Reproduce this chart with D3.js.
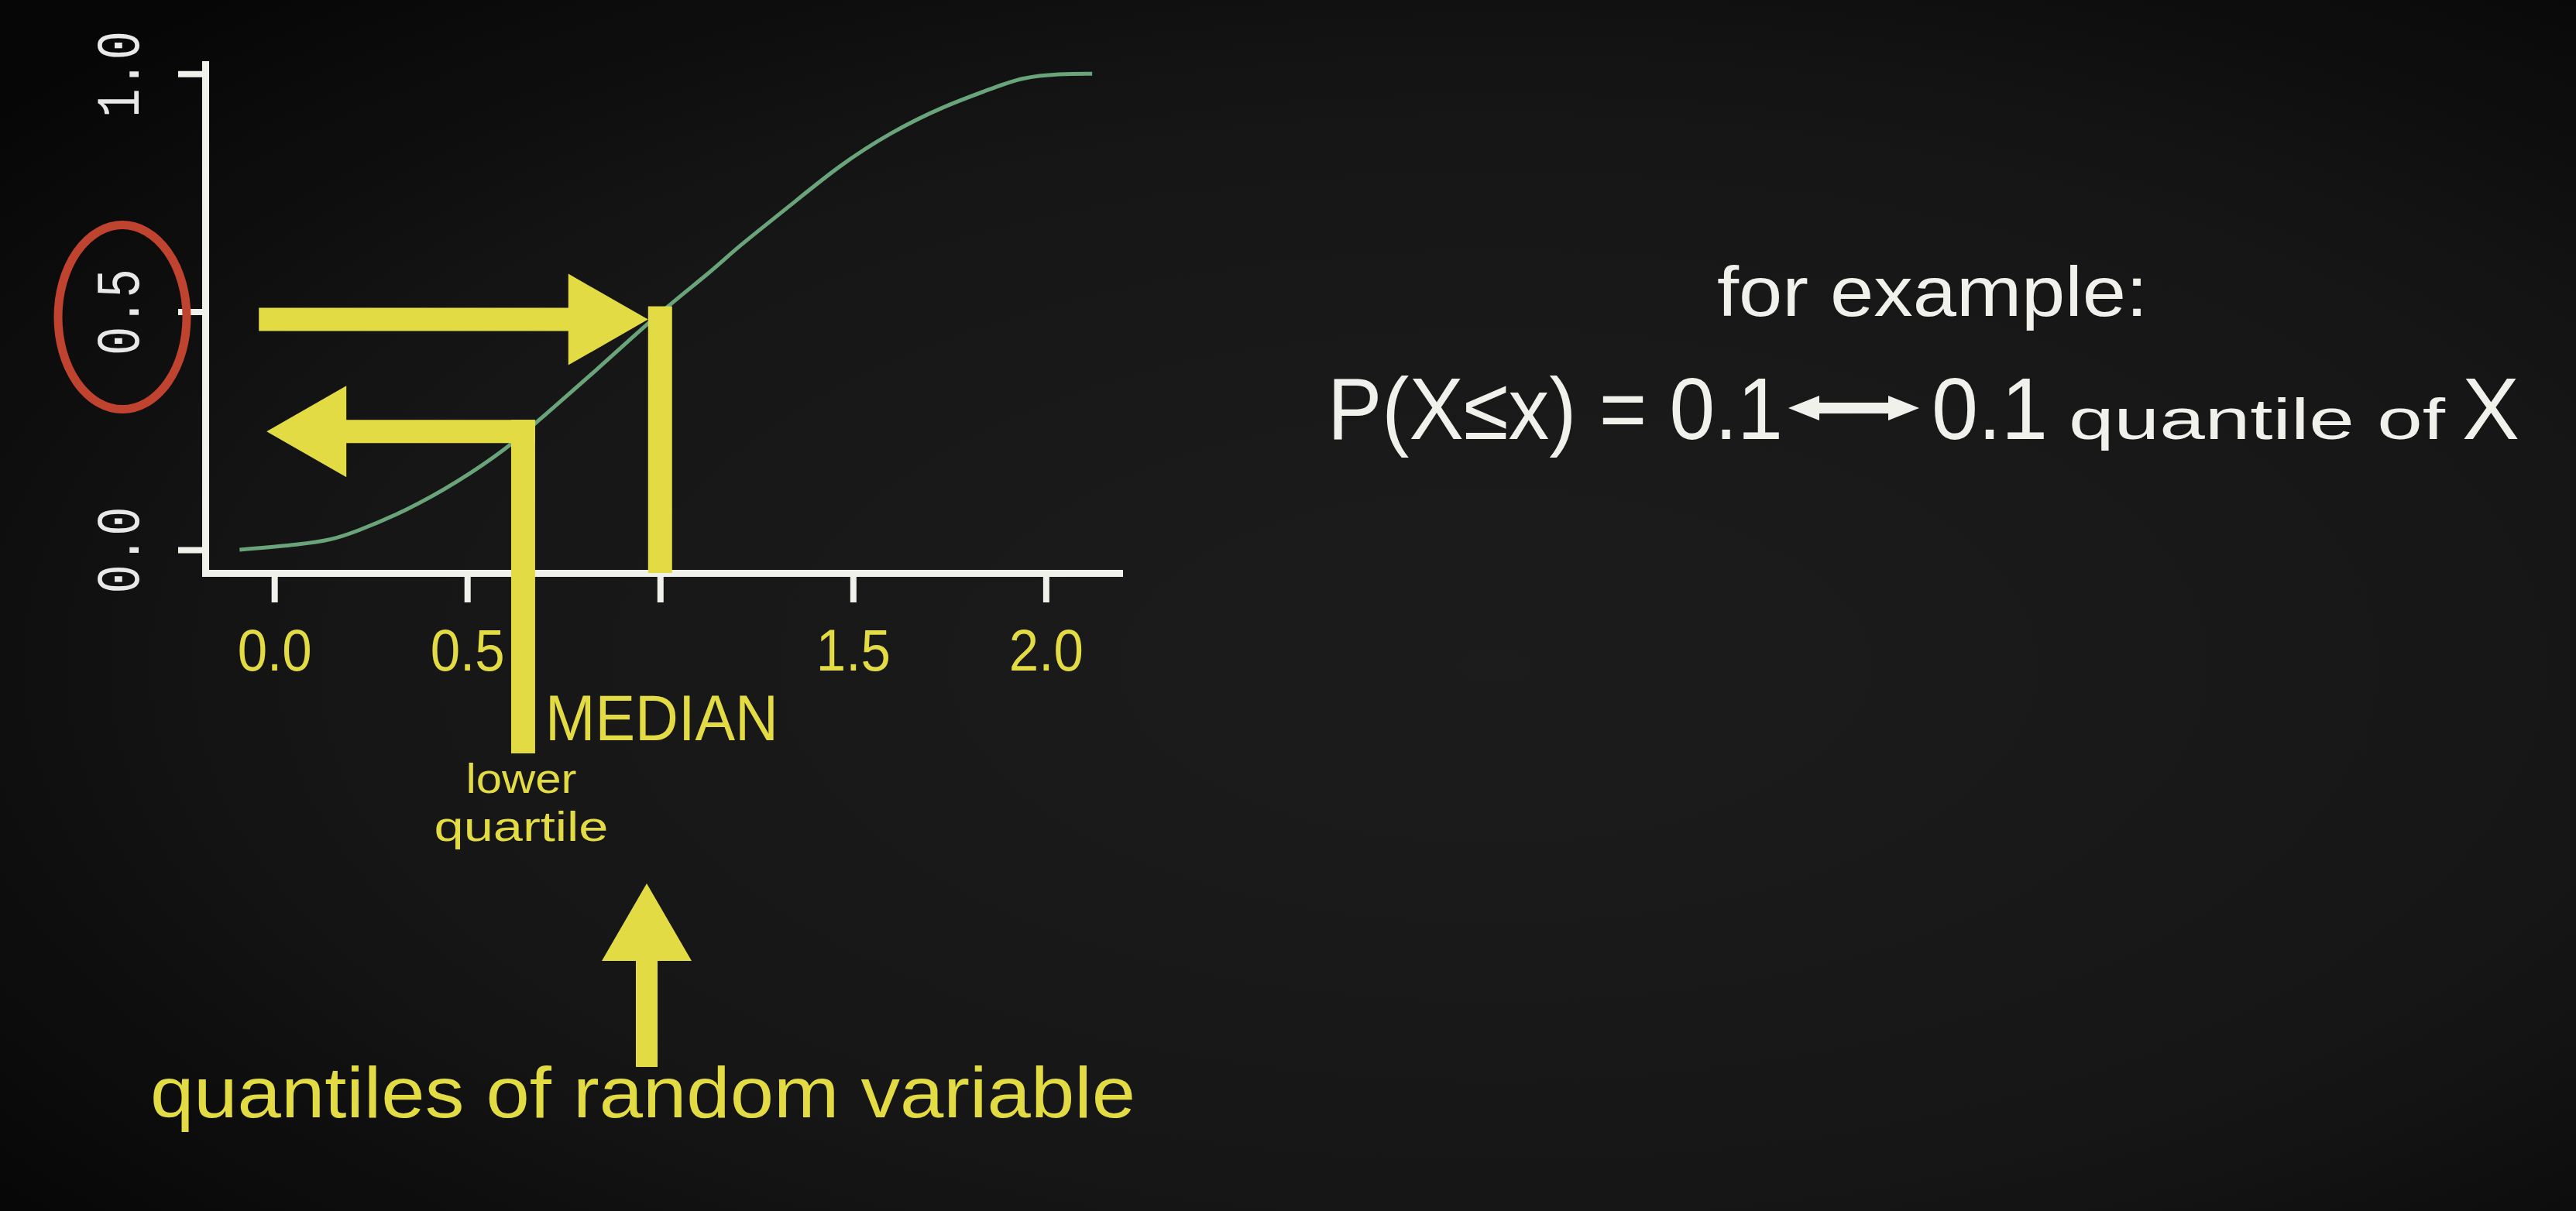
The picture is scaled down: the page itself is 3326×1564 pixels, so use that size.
<!DOCTYPE html>
<html>
<head>
<meta charset="utf-8">
<script src="https://cdn.jsdelivr.net/npm/d3@7"></script>
<style>
  html, body { margin: 0; padding: 0; background: #111; overflow: hidden; }
  svg { display: block; }
</style>
</head>
<body>
<div id="chart"></div>
<script>
// cdf
const cdfX = [-0.09, 0.07, 0.15, 0.21, 0.34, 0.474, 0.609, 0.675, 0.827, 1.0, 1.134, 1.198, 1.333, 1.465, 1.6, 1.735, 1.867, 1.936, 2.036, 2.12];
const cdfY = [0.0, 0.011, 0.021, 0.037, 0.081, 0.141, 0.216, 0.265, 0.371, 0.5, 0.585, 0.634, 0.72, 0.808, 0.878, 0.932, 0.971, 0.992, 1.0, 1.0];

const xTicks = [0, 0.5, 1, 1.5, 2];
const xTickLabels = ["0.0", "0.5", "", "1.5", "2.0"];
const yTicks = [0, 0.5, 1];
const yTickLabels = ["0.0", "0.5", "1.0"];

const quantileNames = ["median", "lower quartile"];
const quantileP = [0.5, 0.25];
const quantileQ = [1.0, 0.645];

const W = 3326, H = 1564;
const yellow = "#e2db44";
const white = "#f1f1ec";

const svg = d3.select("#chart")
  .append("svg")
  .attr("width", W)
  .attr("height", H);

// background, dark with a soft vignette

const defs = svg.append("defs");
const bg = defs.append("radialGradient")
  .attr("id", "bg")
  .attr("cx", "0.58").attr("cy", "0.55").attr("r", "0.75");
bg.append("stop").attr("offset", "0").attr("stop-color", "#1c1c1c");
bg.append("stop").attr("offset", "0.6").attr("stop-color", "#161616");
bg.append("stop").attr("offset", "1").attr("stop-color", "#060606");

svg.append("rect").attr("width", W).attr("height", H).attr("fill", "url(#bg)");

// scales

const x = d3.scaleLinear().domain([-0.179, 2.19]).range([265, 1445]);
const y = d3.scaleLinear().domain([-0.049, 1.02]).range([740, 83]);

// axes

const yAxis = svg.append("g")
  .attr("transform", "translate(265,0)")
  .call(d3.axisLeft(y).tickValues(yTicks).tickSize(35).tickSizeOuter(0)
    .tickFormat((d, i) => yTickLabels[i]));

yAxis.selectAll("text")
  .attr("x", null)
  .attr("dy", null)
  .attr("text-anchor", "middle")
  .attr("dominant-baseline", "central")
  .attr("transform", "translate(-108,0) rotate(-90)")
  .attr("fill", "#e8e8e8")
  .style("font-family", "'Liberation Mono', 'DejaVu Sans Mono', monospace")
  .style("font-size", "80px")
  .attr("textLength", 112)
  .attr("lengthAdjust", "spacingAndGlyphs");

const xAxis = svg.append("g")
  .attr("transform", "translate(0,740)")
  .call(d3.axisBottom(x).tickValues(xTicks).tickSize(38).tickSizeOuter(0)
    .tickPadding(34)
    .tickFormat((d, i) => xTickLabels[i]));

xAxis.selectAll("text")
  .attr("dy", "0.71em")
  .attr("fill", yellow)
  .style("font-family", "'Liberation Sans Narrow', 'Liberation Sans', sans-serif")
  .style("font-size", "76px")
  .attr("textLength", (d, i) => (xTickLabels[i] ? 96 : null))
  .attr("lengthAdjust", "spacingAndGlyphs");

svg.selectAll(".domain")
  .attr("stroke", white)
  .attr("stroke-width", 9)
  .attr("stroke-linecap", "square");
svg.selectAll(".tick line")
  .attr("stroke", white)
  .attr("stroke-width", 8);

// cdf curve

const cdf = cdfX.map((d, i) => [d, cdfY[i]]);

svg.append("path")
  .datum(cdf)
  .attr("fill", "none")
  .attr("stroke", "#6aa47a")
  .attr("stroke-width", 5)
  .attr("d", d3.line()
    .x(d => x(d[0]))
    .y(d => y(d[1]))
    .curve(d3.curveBasis));

// quantile arrows

const arrows = svg.append("g").attr("fill", yellow);
const barW = 31, shaft = 15, headL = 103, headH = 59;

// median: arrow from the axis to the curve, then bar down to the x axis
{
  const qx = x(quantileQ[0]), py = y(quantileP[0]) + 10;
  const x0 = x(-0.04), tip = qx - barW / 2;
  arrows.append("path").attr("d",
    `M${x0},${py - shaft} H${tip - headL} V${py - headH} L${tip},${py}` +
    ` L${tip - headL},${py + headH} V${py + shaft} H${x0} Z`);
  arrows.append("rect")
    .attr("x", qx - barW / 2).attr("y", py - 17)
    .attr("width", barW).attr("height", y(-0.049) - (py - 17));
}

// lower quartile: bar up from below the axis, then arrow back to the y axis
{
  const qx = x(quantileQ[1]), py = y(quantileP[1]) + 1;
  const tip = x(-0.02), right = qx + barW / 2;
  arrows.append("path").attr("d",
    `M${right},${py - shaft} V${py + shaft} H${tip + headL} V${py + headH}` +
    ` L${tip},${py} L${tip + headL},${py - headH} V${py - shaft} Z`);
  arrows.append("rect")
    .attr("x", qx - barW / 2).attr("y", py - shaft)
    .attr("width", barW).attr("height", 973 - (py - shaft));
}

// red circle round the 0.5 probability
svg.append("ellipse")
  .attr("cx", 158).attr("cy", y(0.5) + 7)
  .attr("rx", 83).attr("ry", 119)
  .attr("fill", "none")
  .attr("stroke", "#c0432f")
  .attr("stroke-width", 11);

// yellow notes

const hand = "'Liberation Sans Narrow', 'Liberation Sans', sans-serif";

svg.append("text")
  .attr("x", 704).attr("y", 956)
  .attr("fill", yellow)
  .style("font-family", hand).style("font-size", "84px")
  .attr("textLength", 301).attr("lengthAdjust", "spacingAndGlyphs")
  .text("MEDIAN");

svg.append("text")
  .attr("x", 673).attr("y", 1024)
  .attr("text-anchor", "middle")
  .attr("fill", yellow)
  .style("font-family", hand).style("font-size", "54px")
  .attr("textLength", 143).attr("lengthAdjust", "spacingAndGlyphs")
  .text("lower");

svg.append("text")
  .attr("x", 673).attr("y", 1086)
  .attr("text-anchor", "middle")
  .attr("fill", yellow)
  .style("font-family", hand).style("font-size", "54px")
  .attr("textLength", 225).attr("lengthAdjust", "spacingAndGlyphs")
  .text("quartile");

// arrow pointing up at the quantile axis
{
  const ax = 835, tipY = 1141, baseY = 1241, bottom = 1378;
  arrows.append("path").attr("d",
    `M${ax},${tipY} L${ax + 58},${baseY} H${ax + 14} V${bottom} H${ax - 14}` +
    ` V${baseY} H${ax - 58} Z`);
}

svg.append("text")
  .attr("x", 194).attr("y", 1443)
  .attr("fill", yellow)
  .style("font-family", hand).style("font-size", "92px")
  .attr("textLength", 1272).attr("lengthAdjust", "spacingAndGlyphs")
  .text("quantiles of random variable");

// white example on the right

const txt = svg.append("g")
  .attr("fill", white)
  .style("font-family", hand);

txt.append("text")
  .attr("x", 2217).attr("y", 408)
  .style("font-size", "90px")
  .attr("textLength", 556).attr("lengthAdjust", "spacingAndGlyphs")
  .text("for example:");

txt.append("text")
  .attr("x", 1714).attr("y", 567)
  .style("font-size", "114px")
  .attr("textLength", 588).attr("lengthAdjust", "spacingAndGlyphs")
  .text("P(X\u2264x) = 0.1");

{
  const x0 = 2309, x1 = 2478, cy = 527, h = 7, hh = 16, hl = 40;
  txt.append("path").attr("d",
    `M${x0},${cy} L${x0 + hl},${cy - hh} V${cy - h} H${x1 - hl} V${cy - hh}` +
    ` L${x1},${cy} L${x1 - hl},${cy + hh} V${cy + h} H${x0 + hl} V${cy + hh} Z`);
}

txt.append("text")
  .attr("x", 2494).attr("y", 567)
  .style("font-size", "114px")
  .attr("textLength", 150).attr("lengthAdjust", "spacingAndGlyphs")
  .text("0.1");

txt.append("text")
  .attr("x", 2671).attr("y", 567)
  .style("font-size", "74px")
  .attr("textLength", 486).attr("lengthAdjust", "spacingAndGlyphs")
  .text("quantile of");

txt.append("text")
  .attr("x", 3179).attr("y", 567)
  .style("font-size", "114px")
  .attr("textLength", 74).attr("lengthAdjust", "spacingAndGlyphs")
  .text("X");
</script>
</body>
</html>
